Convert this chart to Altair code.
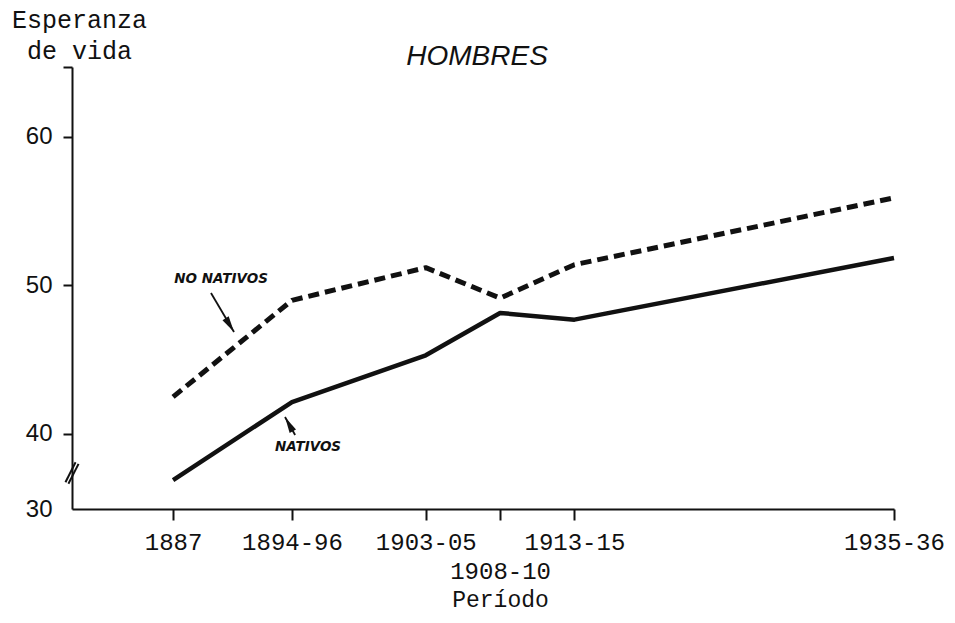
import altair as alt
import pandas as pd

# ---- data ----
periods = ["1887", "1894-96", "1903-05", "1908-10", "1913-15", "1935-36"]
period_mid = [1887, 1895, 1904, 1909, 1914, 1935.5]
nativos = [36.9, 42.15, 45.3, 48.15, 47.7, 51.85]
no_nativos = [42.5, 49.0, 51.2, 49.15, 51.4, 55.9]

y_tick_values = [40, 50, 60]
y_break_label = "30"

chart_title = "HOMBRES"
title_x = 1907.45
title_y = 64.85

# annotation labels (data units)
ann_labels = ["NO NATIVOS", "NATIVOS"]
ann_x = [1890.23, 1896.08]
ann_y = [50.44, 39.12]
# arrows: tail -> tip (data units)
arr_x = [1889.55, 1895.21]
arr_y = [49.49, 39.93]
arr_x2 = [1891.10, 1894.53]
arr_y2 = [46.87, 41.14]
arr_angle = [148.4, 331.0]
# axis break slashes
brk_x = [1879.76, 1879.96]
brk_x2 = [1880.44, 1880.64]
brk_y = [36.75, 36.65]
brk_y2 = [38.10, 37.99]

# ---- scales ----
x_dom = [1880.2, 1935.5]
y_dom = [34.95, 64.71]
xs = alt.Scale(domain=x_dom, nice=False, zero=False)
ys = alt.Scale(domain=y_dom, nice=False, zero=False)

INK = "#111111"
MONO = "Liberation Mono"

df_n = pd.DataFrame({"mid": period_mid, "periodo": periods, "valor": nativos})
df_nn = pd.DataFrame({"mid": period_mid, "periodo": periods, "valor": no_nativos})

# label expression for x axis
parts = []
for v, lab in zip(period_mid, periods):
    if lab == "1908-10":
        parts.append(f"datum.value == {v} ? ['', '{lab}']")
    else:
        parts.append(f"datum.value == {v} ? '{lab}'")
x_label_expr = " : ".join(parts) + " : ''"

y_vals = [y_dom[0]] + y_tick_values + [y_dom[1]]
y_label_expr = (
    f"datum.value < {y_dom[0] + 0.5} ? '{y_break_label}' : "
    f"datum.value > {y_dom[1] - 0.5} ? '' : datum.label"
)

x_axis = alt.Axis(
    values=period_mid,
    labelExpr=x_label_expr,
    title="Período",
    titleFont=MONO,
    titleFontSize=23,
    titleFontWeight="normal",
    titleColor=INK,
    titleX=428,
    titleY=97,
    titleAlign="center",
    titleBaseline="alphabetic",
    labelFont=MONO,
    labelFontSize=24,
    labelColor=INK,
    labelBaseline="alphabetic",
    labelPadding=29,
    labelLineHeight=29,
    labelAngle=0,
    labelFlush=False,
    labelOverlap=False,
    tickSize=11,
    tickWidth=2,
    tickColor=INK,
    domainColor=INK,
    domainWidth=2,
    grid=False,
)

y_axis = alt.Axis(
    values=y_vals,
    labelExpr=y_label_expr,
    title=["Esperanza", "de vida"],
    titleAngle=0,
    titleFont=MONO,
    titleFontSize=25,
    titleFontWeight="normal",
    titleColor=INK,
    titleAlign="center",
    titleBaseline="alphabetic",
    titleX=7,
    titleY=-40,
    titleLineHeight=31,
    labelFont="Liberation Sans",
    labelFontSize=24,
    labelColor=INK,
    labelPadding=11,
    labelOverlap=False,
    labelFlush=False,
    tickSize=9,
    tickWidth=2,
    tickColor=INK,
    tickOpacity={"condition": {"test": f"datum.value < {y_dom[0] + 0.5}", "value": 0}, "value": 1},
    domainColor=INK,
    domainWidth=2,
    grid=False,
)

base_x = alt.X("mid:Q", scale=xs, axis=x_axis)
base_y = alt.Y("valor:Q", scale=ys, axis=y_axis)

line_n = alt.Chart(df_n).mark_line(color=INK, strokeWidth=4.5, strokeJoin="round").encode(
    x=base_x, y=base_y
)
line_nn = alt.Chart(df_nn).mark_line(
    color=INK, strokeWidth=5, strokeDash=[11, 6], strokeJoin="round"
).encode(
    x=alt.X("mid:Q", scale=xs), y=alt.Y("valor:Q", scale=ys)
)

df_title = pd.DataFrame({"x": [title_x], "y": [title_y], "t": [chart_title]})
title_mark = alt.Chart(df_title).mark_text(
    font="Liberation Sans", fontSize=28, fontStyle="italic", fontWeight="normal",
    align="center", baseline="alphabetic", color=INK
).encode(x=alt.X("x:Q", scale=xs), y=alt.Y("y:Q", scale=ys), text="t:N")

df_lab = pd.DataFrame({"x": ann_x, "y": ann_y, "t": ann_labels})
labels = alt.Chart(df_lab).mark_text(
    font="DejaVu Sans", fontSize=13.5, fontStyle="italic", fontWeight="bold",
    align="center", baseline="middle", color=INK
).encode(x=alt.X("x:Q", scale=xs), y=alt.Y("y:Q", scale=ys), text="t:N")

df_arr = pd.DataFrame({"x": arr_x, "y": arr_y, "x2": arr_x2, "y2": arr_y2, "a": arr_angle})
arrow_lines = alt.Chart(df_arr).mark_rule(color=INK, strokeWidth=1.8).encode(
    x=alt.X("x:Q", scale=xs), y=alt.Y("y:Q", scale=ys), x2="x2:Q", y2="y2:Q"
)
arrow_heads = alt.Chart(df_arr).mark_point(
    shape="M0,0L0.45,2L-0.45,2Z", filled=True, size=260, color=INK, opacity=1
).encode(
    x=alt.X("x2:Q", scale=xs), y=alt.Y("y2:Q", scale=ys), angle=alt.Angle("a:Q", scale=None)
)

df_brk = pd.DataFrame({"x": brk_x, "x2": brk_x2, "y": brk_y, "y2": brk_y2})
breaks = alt.Chart(df_brk).mark_rule(color=INK, strokeWidth=2).encode(
    x=alt.X("x:Q", scale=xs), y=alt.Y("y:Q", scale=ys), x2="x2:Q", y2="y2:Q"
)

chart = alt.layer(line_n, line_nn, title_mark, labels, arrow_lines, arrow_heads, breaks).properties(
    width=822,
    height=442,
    autosize=alt.AutoSizeParams(type="none"),
    padding={"left": 64, "top": 59, "right": 53, "bottom": 106},
).configure(background="white").configure_view(stroke=None)

chart.save("out.html", embed_options={"renderer": "svg", "actions": False})
